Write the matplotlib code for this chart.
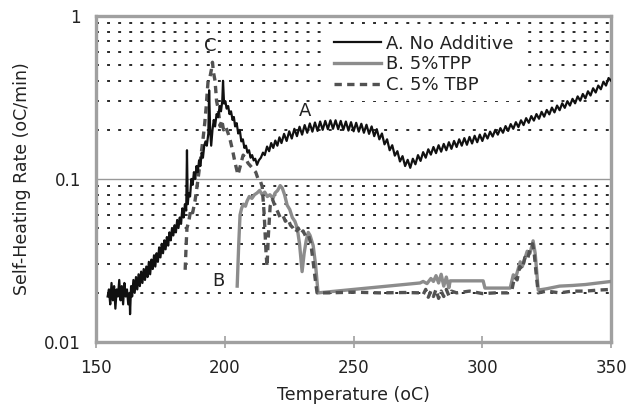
import matplotlib
matplotlib.use("Agg")
import matplotlib.pyplot as plt
from matplotlib.ticker import FixedLocator, FixedFormatter, NullFormatter

plt.rcParams['font.family'] = ['DejaVu Sans']

# ---------------- data ----------------
a_x = [154.5, 155, 155.5, 156, 156.5, 157, 157.5, 158, 158.5, 159, 159.5, 160, 160.5, 161, 161.5,
       162, 162.5, 163, 163.2, 163.6, 164, 164.5, 165, 165.5, 166, 166.5, 167, 167.5, 168, 168.5,
       169, 169.5, 170, 170.5, 171, 171.5, 172, 172.5, 173, 173.5, 174, 174.5, 175, 175.5, 176,
       176.5, 177, 177.5, 178, 178.5, 179, 179.5, 180, 180.5, 181, 181.5, 182, 182.5, 183, 183.5,
       184, 184.5, 185, 185.3, 185.6, 186, 186.5, 187, 187.5, 188, 188.5, 189, 189.5, 190, 190.5,
       191, 191.5, 192, 192.5, 193, 193.6, 193.9, 194.3, 194.7, 195.2, 195.7, 196.2, 196.8, 197.4,
       198, 198.5, 199, 199.3, 199.7, 200.2, 200.7, 201.3, 201.8, 202.4, 203, 203.5, 204, 204.6,
       205.2, 205.8, 206.4, 207, 207.6, 208.2, 208.8, 209.4, 210, 210.6, 211.2, 211.8, 212.5, 213.2,
       214, 214.8, 215.5, 216.4, 217.2, 218, 218.8, 219.6, 220.4, 221.2,
       222, 223, 224, 225, 226, 227, 228, 229, 230, 231, 232, 233, 234, 235, 236, 237, 238, 239,
       240, 241, 242, 243, 244, 245, 246, 247, 248, 249, 250, 251, 252, 253, 254, 255, 256, 257,
       258, 259, 260, 261, 262, 263, 264, 265, 266, 267, 268, 269, 270, 271, 272, 273, 274, 275,
       276, 277, 278, 279, 280, 281, 282, 283, 284, 285, 286, 287, 288, 289, 290, 291, 292, 293,
       294, 295, 296, 297, 298, 299, 300, 301, 302, 303, 304, 305, 306, 307, 308, 309, 310, 311,
       312, 313, 314, 315, 316, 317, 318, 319, 320, 321, 322, 323, 324, 325, 326, 327, 328, 329,
       330, 331, 332, 333, 334, 335, 336, 337, 338, 339, 340, 341, 342, 343, 344, 345, 346, 347,
       348, 349, 350]
a_y = [0.019, 0.021, 0.017, 0.023, 0.018, 0.022, 0.016, 0.021, 0.019, 0.024, 0.018, 0.022, 0.017, 0.023, 0.019,
       0.021, 0.017, 0.020, 0.0148, 0.022, 0.019, 0.024, 0.020, 0.025, 0.021, 0.026, 0.022, 0.027, 0.023, 0.028,
       0.024, 0.029, 0.025, 0.031, 0.026, 0.032, 0.028, 0.034, 0.029, 0.035, 0.031, 0.038, 0.033, 0.040, 0.035,
       0.042, 0.037, 0.044, 0.039, 0.047, 0.042, 0.050, 0.045, 0.052, 0.047, 0.056, 0.050, 0.058, 0.053, 0.066,
       0.058, 0.070, 0.064, 0.150, 0.070, 0.082, 0.078, 0.100, 0.092, 0.110, 0.100, 0.120, 0.110, 0.130, 0.120,
       0.145, 0.135, 0.160, 0.170, 0.160, 0.190, 0.350, 0.200, 0.160, 0.200, 0.230, 0.210, 0.250, 0.240,
       0.280, 0.260, 0.300, 0.400, 0.290, 0.300, 0.270, 0.280, 0.250, 0.260, 0.230, 0.240, 0.210, 0.220,
       0.190, 0.200, 0.170, 0.175, 0.155, 0.160, 0.145, 0.150, 0.135, 0.140, 0.130, 0.133, 0.122, 0.130,
       0.135, 0.145, 0.140, 0.158, 0.148, 0.166, 0.155, 0.172, 0.160, 0.180,
       0.166, 0.189, 0.171, 0.196, 0.177, 0.203, 0.183, 0.209, 0.187, 0.214, 0.192, 0.219, 0.195, 0.222, 0.197, 0.225, 0.200, 0.227,
       0.202, 0.229, 0.203, 0.229, 0.202, 0.227, 0.200, 0.225, 0.198, 0.223, 0.196, 0.221, 0.195, 0.218, 0.192, 0.215, 0.189, 0.210,
       0.183, 0.202, 0.175, 0.190, 0.163, 0.175, 0.150, 0.161, 0.139, 0.148, 0.128, 0.138, 0.120, 0.131, 0.117, 0.133, 0.123, 0.140,
       0.129, 0.146, 0.135, 0.152, 0.141, 0.157, 0.144, 0.161, 0.147, 0.164, 0.150, 0.168, 0.153, 0.171, 0.157, 0.175, 0.160, 0.178,
       0.162, 0.181, 0.165, 0.184, 0.168, 0.187, 0.171, 0.190, 0.177, 0.195, 0.182, 0.200, 0.187, 0.205, 0.192, 0.211, 0.197, 0.217,
       0.203, 0.223, 0.208, 0.229, 0.214, 0.236, 0.221, 0.243, 0.228, 0.250, 0.234, 0.258, 0.241, 0.265, 0.249, 0.274, 0.256, 0.282,
       0.264, 0.291, 0.273, 0.300, 0.282, 0.310, 0.291, 0.321, 0.302, 0.332, 0.312, 0.345, 0.325, 0.360, 0.339, 0.374, 0.355, 0.395,
       0.374, 0.416, 0.400]

b_x = [204.8, 205.4, 205.9, 206.5, 207.2, 208, 208.6, 209.5, 210.5, 211.5, 212.5, 213.5, 214.5, 215.5,
       216.5, 217.5, 218.7, 219.5, 220.5, 221.5, 222.3, 223.2, 224.2, 225.2, 226.2, 227.2, 228.1, 229,
       230, 230.8, 231.6, 232.4, 233.1, 234.3, 235.2, 236.2, 275.8, 277, 278.5, 280, 281, 282, 283, 284,
       285, 286, 287, 287.5, 300.3, 301, 310.8, 312, 313, 314.7, 315.5, 317.4, 318.5, 319.7, 320.5,
       321.7, 325, 330, 335, 340, 345, 350]
b_y = [0.022, 0.040, 0.060, 0.066, 0.070, 0.068, 0.073, 0.078, 0.076, 0.080, 0.082, 0.085, 0.080, 0.083,
       0.078, 0.080, 0.076, 0.082, 0.085, 0.091, 0.088, 0.080, 0.069, 0.065, 0.058, 0.055, 0.050, 0.040,
       0.027, 0.035, 0.042, 0.047, 0.045, 0.039, 0.030, 0.020, 0.023, 0.0235, 0.0228, 0.0245, 0.0235, 0.0255, 0.023, 0.026,
       0.022, 0.025, 0.0215, 0.0237, 0.0237, 0.0214, 0.0214, 0.0258, 0.025, 0.031, 0.029, 0.036, 0.035, 0.0417, 0.035,
       0.0208, 0.0212, 0.022, 0.0222, 0.0225, 0.023, 0.0235]

c_x = [184.6, 185.0, 185.3, 186, 186.8, 187.5, 188.4, 189, 189.6, 190.5, 191.2, 191.6, 192.2, 192.7,
       193.1, 193.5, 194.2, 194.8, 195.2, 195.6, 196.2, 196.8, 197.4, 198.2, 198.8, 199.5, 200.3, 201.3,
       202.2, 203, 204, 205.1, 206, 207.1, 208, 209, 210, 211, 212, 212.9, 213.7, 214.5, 215.3, 216,
       216.4, 216.9, 217.6, 218.5, 219.5, 220.5, 221.5, 222.5, 223.5, 224.5, 225.5, 226.5, 227.5, 228.5,
       229.5, 230.4, 231.5, 232.5, 233.4, 234.3, 235, 235.8, 240, 250, 260, 270, 276, 277, 278, 279, 280,
       281, 282, 283, 284, 285, 286, 287, 288, 290, 295, 300, 305, 310, 311.5, 312.5, 313.5, 314.5, 315.5,
       316.5, 317.5, 318.5, 319.5, 320.2, 321, 321.7, 325, 330, 335, 340, 345, 350]
c_y = [0.0277, 0.040, 0.050, 0.055, 0.065, 0.062, 0.073, 0.085, 0.100, 0.130, 0.160, 0.180, 0.220, 0.270,
       0.330, 0.400, 0.420, 0.470, 0.520, 0.450, 0.400, 0.300, 0.270, 0.210, 0.230, 0.200, 0.210, 0.190,
       0.170, 0.150, 0.125, 0.106, 0.120, 0.140, 0.135, 0.125, 0.120, 0.115, 0.110, 0.100, 0.098, 0.090, 0.060, 0.035,
       0.029, 0.045, 0.068, 0.075, 0.068, 0.063, 0.058, 0.060, 0.055, 0.057, 0.052, 0.050, 0.047, 0.050,
       0.046, 0.048, 0.044, 0.045, 0.040, 0.031, 0.025, 0.020, 0.020, 0.0202, 0.020, 0.0201, 0.020, 0.0195, 0.021, 0.0188, 0.0205,
       0.019, 0.021, 0.0185, 0.0205, 0.019, 0.021, 0.0192, 0.0205, 0.020, 0.0205, 0.0198, 0.020, 0.020, 0.021, 0.025, 0.024, 0.029, 0.028,
       0.033, 0.032, 0.037, 0.040, 0.034, 0.025, 0.020, 0.0205, 0.020, 0.0205, 0.0205, 0.0208, 0.021]

series_labels = ["A. No Additive", "B. 5%TPP", "C. 5% TBP"]
x_ticks = [150, 200, 250, 300, 350]
y_ticks = [0.01, 0.1, 1]
y_tick_labels = ["0.01", "0.1", "1"]
x_label = "Temperature (oC)"
y_label = "Self-Heating Rate (oC/min)"

# ---------------- figure ----------------
fig = plt.figure(figsize=(6.32, 4.09), dpi=100)
ax = fig.add_axes([0.152, 0.164, 0.815, 0.797])

ax.set_yscale('log')
ax.set_xlim(150, 350)
ax.set_ylim(0.01, 1)

minor = [k * 0.01 for k in range(2, 10)] + [k * 0.1 for k in range(2, 10)]
ax.yaxis.set_major_locator(FixedLocator(y_ticks))
ax.yaxis.set_major_formatter(FixedFormatter(y_tick_labels))
ax.yaxis.set_minor_locator(FixedLocator(minor))
ax.yaxis.set_minor_formatter(NullFormatter())
ax.set_xticks(x_ticks)

ax.set_axisbelow(True)
ax.yaxis.grid(True, which='minor', color='#2a2a2a', lw=1.4, linestyle=(0, (1.5, 4.2)))
ax.yaxis.grid(True, which='major', color='#999999', lw=1.0, linestyle='-')

for s in ax.spines.values():
    s.set_color('#a0a0a0')
    s.set_linewidth(2.4)

ax.tick_params(axis='y', which='both', length=0, pad=11, labelsize=12, labelcolor='#222222')
ax.tick_params(axis='x', which='major', direction='inout', length=9, width=1.2, color='#a0a0a0',
               pad=8, labelsize=12, labelcolor='#222222')

la, = ax.plot(a_x, a_y, color='#111111', lw=1.6, zorder=5, label=series_labels[0])
lb, = ax.plot(b_x, b_y, color='#8c8c8c', lw=2.4, zorder=3, label=series_labels[1])
lc, = ax.plot(c_x, c_y, color='#525252', lw=2.4, zorder=4, linestyle=(0, (2.2, 1.6)), label=series_labels[2])

ax.text(194.3, 0.65, "C", fontsize=13, ha='center', va='center', color='#222222')
ax.text(231.2, 0.26, "A", fontsize=13, ha='center', va='center', color='#222222')
ax.text(197.4, 0.0237, "B", fontsize=13, ha='center', va='center', color='#222222')

leg = ax.legend(handles=[la, lb, lc], loc='upper left', bbox_to_anchor=(0.448, 0.965),
                borderaxespad=0, frameon=True, fontsize=13, handlelength=2.6, handletextpad=0.3,
                labelspacing=0.15, borderpad=0.4)
leg.get_frame().set_facecolor('white')
leg.get_frame().set_edgecolor('none')
leg.get_frame().set_alpha(1.0)
for t in leg.get_texts():
    t.set_color('#222222')

ax.set_xlabel(x_label, fontsize=12.5, color='#222222', labelpad=6)
ax.set_ylabel(y_label, fontsize=12.5, color='#222222', labelpad=9)

fig.savefig("out.png", dpi=100)
